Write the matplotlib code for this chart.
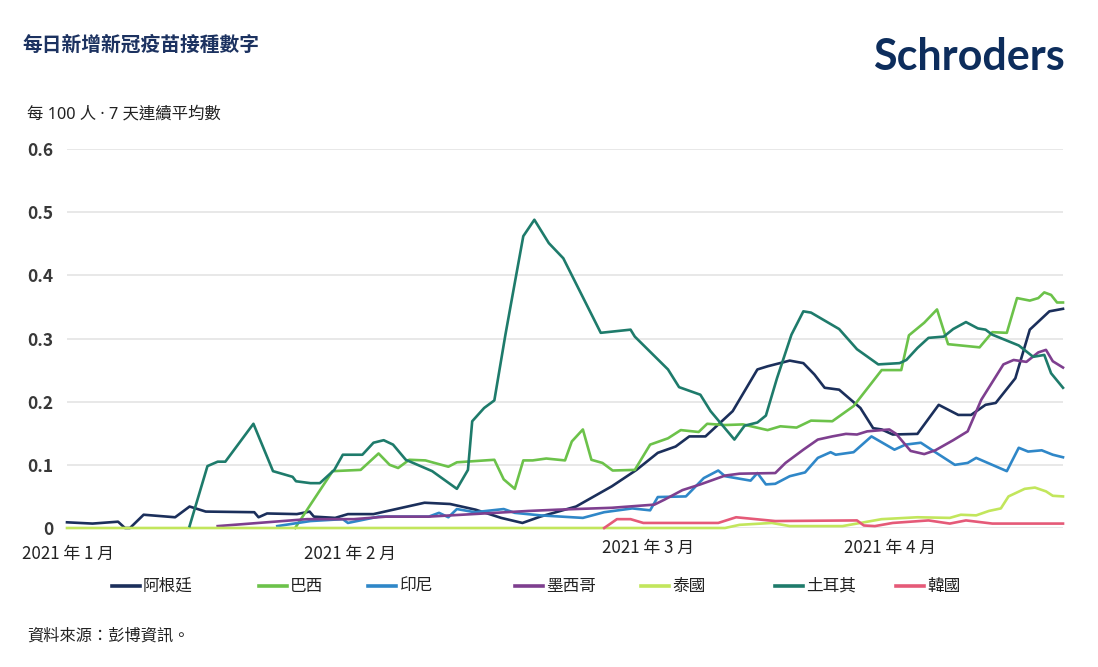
import matplotlib
matplotlib.use('Agg')
import matplotlib.pyplot as plt
from matplotlib.lines import Line2D

plt.rcParams['font.family'] = ['Noto Sans CJK TC', 'DejaVu Sans']

# days since 1 Jan 2021, 7-day average doses per 100 people
arg_days = [0, 3, 6, 6.8, 7.4, 9, 12.7, 14.4, 16.3, 22, 22.5, 23.5, 27, 28.5, 29, 31.5, 33, 36, 42, 45,
            48, 51, 53.5, 55.6, 59.8, 64, 66.9, 69.4, 71.5, 73.1, 75, 78.2, 81.1, 82.3, 84.9, 86.5, 87.8,
            89, 90.7, 93.2, 94.7, 95.7, 97, 99.9, 102.4, 104.7, 106.2, 107.9, 109.1, 111.4, 113.1, 115.4, 117]
arg_vals = [0.009, 0.007, 0.010, 0.0, 0.0, 0.021, 0.017, 0.034, 0.026, 0.025, 0.017, 0.023, 0.022, 0.026,
            0.018, 0.016, 0.022, 0.022, 0.040, 0.038, 0.029, 0.016, 0.008, 0.018, 0.034, 0.066, 0.092,
            0.119, 0.129, 0.145, 0.145, 0.185, 0.251, 0.256, 0.265, 0.261, 0.243, 0.222, 0.219, 0.190,
            0.158, 0.156, 0.148, 0.149, 0.195, 0.179, 0.179, 0.195, 0.198, 0.237, 0.314, 0.343, 0.347]

bra_days = [26.8, 28.6, 31.2, 34.5, 36.6, 37.9, 38.9, 40.2, 42.1, 44.8, 45.8, 50.2, 51.3, 52.6, 53.6,
            54.7, 56.3, 58.5, 59.3, 60.6, 61.6, 62.9, 64.1, 66.7, 68.5, 70.6, 72.1, 74.2, 75.2, 77.3,
            79.4, 82.3, 83.8, 85.7, 87.4, 89.9, 92.4, 95.7, 98, 98.9, 100.7, 102.2, 103.5, 107.2, 108.7,
            110.4, 111.6, 113.1, 114.1, 114.8, 115.6, 116.3, 117]
bra_vals = [0.0, 0.037, 0.090, 0.092, 0.118, 0.100, 0.095, 0.108, 0.107, 0.097, 0.104, 0.108, 0.077,
            0.062, 0.107, 0.107, 0.110, 0.107, 0.137, 0.156, 0.108, 0.103, 0.091, 0.092, 0.132, 0.142,
            0.155, 0.152, 0.165, 0.163, 0.164, 0.155, 0.161, 0.159, 0.170, 0.169, 0.193, 0.250, 0.250,
            0.305, 0.325, 0.346, 0.291, 0.286, 0.310, 0.309, 0.364, 0.360, 0.364, 0.373, 0.369, 0.357, 0.357]

idn_days = [24.7, 28.6, 32.4, 33, 36.6, 42.5, 43.7, 44.8, 45.8, 47.9, 51.3, 52.6, 55.6, 60.6, 63.1,
            66.4, 68.5, 69.4, 72.7, 74.8, 76.5, 77.3, 80.3, 81.1, 82.1, 83.2, 84.9, 86.7, 88.2, 89.7,
            90.3, 92.4, 94.5, 97.2, 98.5, 100.3, 102, 104.3, 105.8, 106.8, 110.4, 111.8, 112.9, 114.5,
            115.8, 117]
idn_vals = [0.003, 0.011, 0.014, 0.008, 0.018, 0.018, 0.024, 0.017, 0.030, 0.025, 0.030, 0.024, 0.020,
            0.016, 0.025, 0.031, 0.028, 0.049, 0.050, 0.079, 0.091, 0.082, 0.075, 0.087, 0.069, 0.070,
            0.082, 0.088, 0.111, 0.120, 0.116, 0.120, 0.145, 0.124, 0.132, 0.135, 0.120, 0.100, 0.103,
            0.111, 0.090, 0.127, 0.121, 0.123, 0.116, 0.112]

mex_days = [17.7, 28.2, 33.7, 37.5, 42.5, 54.2, 57.6, 64, 69, 70.2, 72.3, 74.4, 77.3, 79, 83.2, 84.4,
            86.5, 88.2, 89.9, 91.5, 92.8, 94, 96.6, 97.4, 99.1, 100.7, 102, 104.1, 105.8, 107.4, 110,
            111.2, 112.7, 114.1, 115, 115.8, 117]
mex_vals = [0.003, 0.014, 0.014, 0.018, 0.018, 0.027, 0.029, 0.032, 0.037, 0.045, 0.060, 0.069, 0.083,
            0.086, 0.087, 0.103, 0.124, 0.140, 0.145, 0.149, 0.148, 0.153, 0.156, 0.149, 0.122, 0.117,
            0.123, 0.139, 0.153, 0.203, 0.259, 0.266, 0.263, 0.278, 0.282, 0.264, 0.254]

tha_days = [0, 77.3, 79, 82.8, 84.9, 91.1, 93.2, 95.7, 99.9, 103.7, 105, 106.8, 108.3, 109.7, 110.6,
            112.5, 113.7, 115, 115.8, 117]
tha_vals = [0.0, 0.0, 0.005, 0.008, 0.003, 0.003, 0.008, 0.014, 0.017, 0.016, 0.021, 0.020, 0.027,
            0.031, 0.050, 0.062, 0.064, 0.058, 0.051, 0.050]

tur_days = [14.4, 16.5, 17.7, 18.6, 21.9, 24.2, 26.5, 26.9, 28.6, 29.7, 31.4, 32.4, 34.7, 36, 37.2,
            38.3, 39.8, 42.9, 45.8, 47.1, 47.6, 49, 50.2, 51.5, 52.6, 53.6, 54.9, 56.6, 58.3, 62.7,
            66.2, 66.7, 70.6, 71.9, 74.4, 75.6, 78.4, 79.6, 81.1, 82.1, 83.4, 85.1, 86.5, 87.4, 90.7,
            92.8, 95.3, 97.8, 98.6, 99.9, 101.2, 103, 104.1, 105.6, 107, 107.9, 108.7, 111.8, 113.5,
            114.8, 115.6, 117]
tur_vals = [0.003, 0.098, 0.105, 0.105, 0.165, 0.090, 0.081, 0.074, 0.071, 0.071, 0.092, 0.116, 0.116,
            0.135, 0.139, 0.132, 0.108, 0.090, 0.062, 0.092, 0.169, 0.190, 0.202, 0.306, 0.388, 0.462,
            0.488, 0.451, 0.427, 0.309, 0.314, 0.303, 0.251, 0.223, 0.211, 0.185, 0.140, 0.162, 0.167,
            0.178, 0.237, 0.306, 0.343, 0.341, 0.315, 0.283, 0.259, 0.261, 0.266, 0.285, 0.301, 0.303,
            0.315, 0.326, 0.316, 0.314, 0.306, 0.289, 0.271, 0.274, 0.245, 0.222]

kor_days = [63.1, 64.6, 66.2, 67.7, 76.5, 78.6, 83.2, 92.8, 93.6, 94.9, 97, 101.2, 103.7, 105.6, 108.7, 117]
kor_vals = [0.0, 0.014, 0.014, 0.008, 0.008, 0.017, 0.011, 0.012, 0.004, 0.003, 0.008, 0.012, 0.007,
            0.012, 0.007, 0.007]

names = ['阿根廷', '巴西', '印尼', '墨西哥', '泰國', '土耳其', '韓國']
colors = ['#1b2f5b', '#6cc24a', '#2f87c8', '#7e3f8f', '#c2e65c', '#1e7b6b', '#e55a78']
yticks = [0, 0.1, 0.2, 0.3, 0.4, 0.5, 0.6]
ytick_labels = ['0', '0.1', '0.2', '0.3', '0.4', '0.5', '0.6']
month_labels = ['2021 年 1 月', '2021 年 2 月', '2021 年 3 月', '2021 年 4 月']


def main():
    W, H = 1098, 667
    fig = plt.figure(figsize=(W / 100, H / 100), dpi=100)
    fig.patch.set_facecolor('white')
    ax = fig.add_axes([67 / W, 1 - 528 / H, (1063 - 67) / W, (528 - 149) / H])

    series = [(arg_days, arg_vals), (bra_days, bra_vals), (idn_days, idn_vals), (mex_days, mex_vals),
              (tha_days, tha_vals), (tur_days, tur_vals), (kor_days, kor_vals)]
    for (d, v), c in zip(series, colors):
        ax.plot(d, v, color=c, linewidth=1.9, clip_on=False, solid_joinstyle='round')

    ax.set_xlim(0, 117)
    ax.set_ylim(0, 0.6)
    ax.set_yticks(yticks)
    ax.set_yticklabels(ytick_labels, fontsize=12.5, color='#383838', fontweight='bold')
    ax.tick_params(axis='y', length=0, pad=10)
    ax.set_xticks([])
    ax.grid(axis='y', color='#e4e4e4', linewidth=1.2)
    ax.set_axisbelow(True)
    for s in ax.spines.values():
        s.set_visible(False)

    # month labels (staggered as in the original graphic)
    for lab, (px, py) in zip(month_labels, [(68, 554), (350, 554), (648, 548), (890, 548)]):
        fig.text(px / W, 1 - py / H, lab, ha='center', va='center', fontsize=12.2, color='#222222')

    # titles
    fig.text(22 / W, 1 - 45 / H, '每日新增新冠疫苗接種數字', fontsize=14.2, fontweight='bold',
             color='#1c3260', va='center')
    fig.text(27 / W, 1 - 114 / H, '每 100 人 · 7 天連續平均數', fontsize=11.8, color='#222222',
             va='center', family=['Noto Sans', 'Noto Sans CJK TC'])
    fig.text(1065 / W, 1 - 70 / H, 'Schroders', fontsize=31, fontweight='bold', color='#0d2d5c',
             family='Lato', ha='right', va='baseline')
    fig.text(27 / W, 1 - 636 / H, '資料來源：彭博資訊。', fontsize=11.7, color='#222222', va='center')

    # legend
    leg_x = [112, 259, 368, 515, 641, 775, 896]
    for name, c, lx in zip(names, colors, leg_x):
        fig.add_artist(Line2D([lx / W, (lx + 28) / W], [1 - 586 / H, 1 - 586 / H], color=c, linewidth=2.6))
        fig.text((lx + 31) / W, 1 - 586 / H, name, fontsize=12, color='#222222', va='center')

    fig.savefig('out.png', dpi=100, facecolor='white')
    plt.close(fig)


if __name__ == '__main__':
    main()
